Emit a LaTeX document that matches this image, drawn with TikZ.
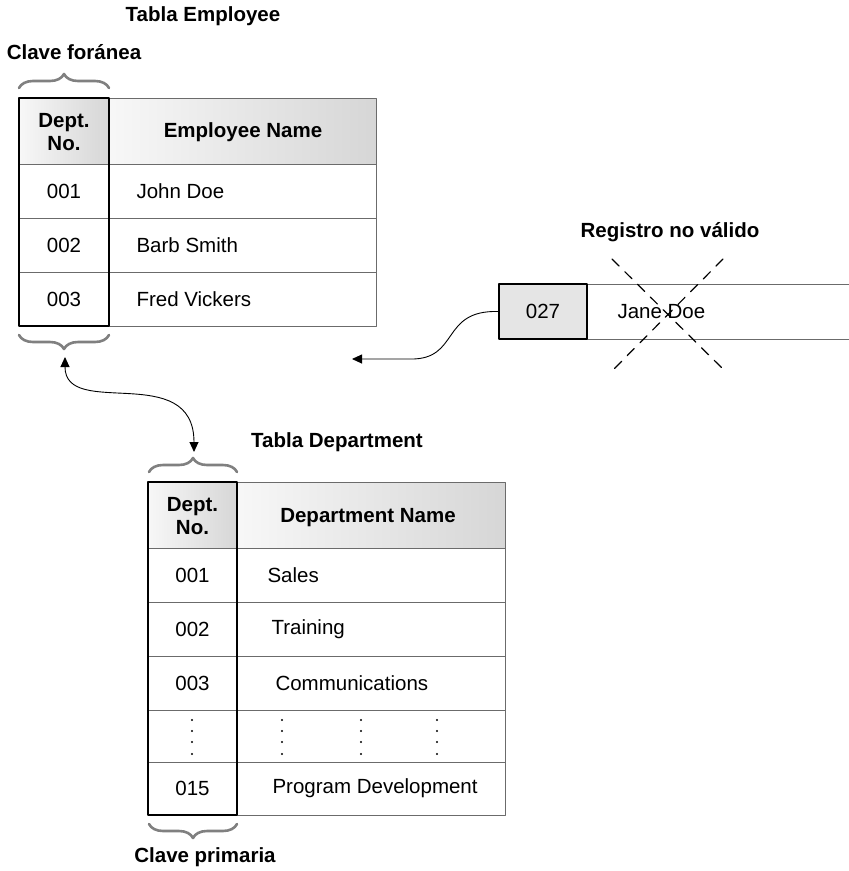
\documentclass[tikz,border=0pt]{standalone}
\usepackage{fontspec}
\setmainfont{Liberation Sans}
\usetikzlibrary{arrows.meta,decorations.pathreplacing,positioning}
\definecolor{qqline}{rgb}{0.42,0.42,0.42}
\definecolor{qqbrace}{rgb}{0.5,0.5,0.5}
\definecolor{qqfill}{rgb}{0.9,0.9,0.9}
\begin{document}
\begin{tikzpicture}[line cap=round,line join=round,>={Triangle[length=10pt,width=9pt]},x=1pt,y=-1pt,
	title/.style={font=\fontsize{20.5}{23}\selectfont\bfseries},
	cell/.style={font=\fontsize{20.5}{23}\selectfont},
	hdr/.style={font=\fontsize{20.5}{23}\selectfont\bfseries,align=center},
	keybrace/.style={decorate,decoration={brace,amplitude=14pt},color=qqbrace,line width=2.6pt},
	hshade/.style={left color=gray!6,right color=gray!32}]
	\useasboundingbox (0,0) rectangle (849,871);
	% titles
	\node[title] (empt) at (203,16) {Tabla Employee};
	\node[title] (fkey) at (74,52) {Clave foránea};
	\node[title] (dept) at (337,442) {Tabla Department};
	\node[title] (pkey) at (205,857) {Clave primaria};
	\node[title] (bad) at (670,232) {Registro no válido};
	% Employee table
		\shade[hshade] (19,98) rectangle (109,164);
		\shade[hshade] (109,98) rectangle (376,164);
		\draw [color=qqline,line width=1pt] (19,98) rectangle (376,326);
		\foreach \y in {164,218,272}
			\draw [color=qqline,line width=1pt] (19,\y)-- (376,\y);
		\draw [line width=2pt] (19,98) rectangle (109,326);
	\node[hdr] (eno) at (64,132) {Dept.\\No.};
	\node[hdr] (ename) at (243,132) {Employee Name};
	\foreach \y/\n/\name [count=\i] in {191/001/John Doe,245/002/Barb Smith,299/003/Fred Vickers} {
		\node[cell] (e\i) at (64,\y) {\n};
		\node[cell,anchor=west] (en\i) at (133,\y) {\name};
	}
	\draw[keybrace] (19,88) -- (109,88);
	\draw[keybrace] (109,335) -- (19,335);
	% Department table
		\shade[hshade] (148,482) rectangle (237,548);
		\shade[hshade] (237,482) rectangle (505,548);
		\draw [color=qqline,line width=1pt] (148,482) rectangle (505,815);
		\foreach \y in {548,602,656,710,762}
			\draw [color=qqline,line width=1pt] (148,\y)-- (505,\y);
		\draw [line width=2pt] (148,482) rectangle (237,815);
	\node[hdr] (dno) at (192.5,516) {Dept.\\No.};
	\node[hdr] (dname) at (368,518) {Department Name};
	\foreach \y/\n/\x/\name [count=\i] in {575/001/264/Sales,629/002/268/Training,683/003/272/Communications,788/015/269/Program Development} {
		\node[cell] (d\i) at (192.5,\y) {\n};
		\node[cell,anchor=west] (dn\i) at (\x,\y) {\name};
	}
	\foreach \x in {192,282,361,437}
		\foreach \y in {720,731,742,754}
			\fill (\x,\y) circle (1.1pt);
	\draw[keybrace] (149,472) -- (237,472);
	\draw[keybrace] (237,824) -- (149,824);
	% key link
	\coordinate (fkup) at (65,357);
	\coordinate (pkdown) at (194,452);
	\draw[<->,line width=0.9pt] (fkup) .. controls (65,420) and (194,360) .. (pkdown);
	% invalid record
		\fill[qqfill] (499,284) rectangle (587,339);
		\draw [color=qqline,line width=1pt] (587,284)-- (849,284);
		\draw [color=qqline,line width=1pt] (587,339)-- (849,339);
	\node[cell,draw,line width=2pt,minimum width=88pt,minimum height=55pt,inner sep=0pt] (r027) at (543,311.5) {027};
	\node[cell,anchor=west] (rname) at (614,312) {Jane Doe};
	\draw [dash pattern=on 10pt off 8pt,line width=1.2pt] (612,259)-- (727,373);
	\draw [dash pattern=on 10pt off 8pt,line width=1.2pt] (723,259)-- (609,374);
	\coordinate (nowhere) at (352,359);
	\draw[->,line width=0.9pt] (r027.west) .. controls (440,310) and (460,360) .. (410,359) -- (nowhere);
\end{tikzpicture}
\end{document}
